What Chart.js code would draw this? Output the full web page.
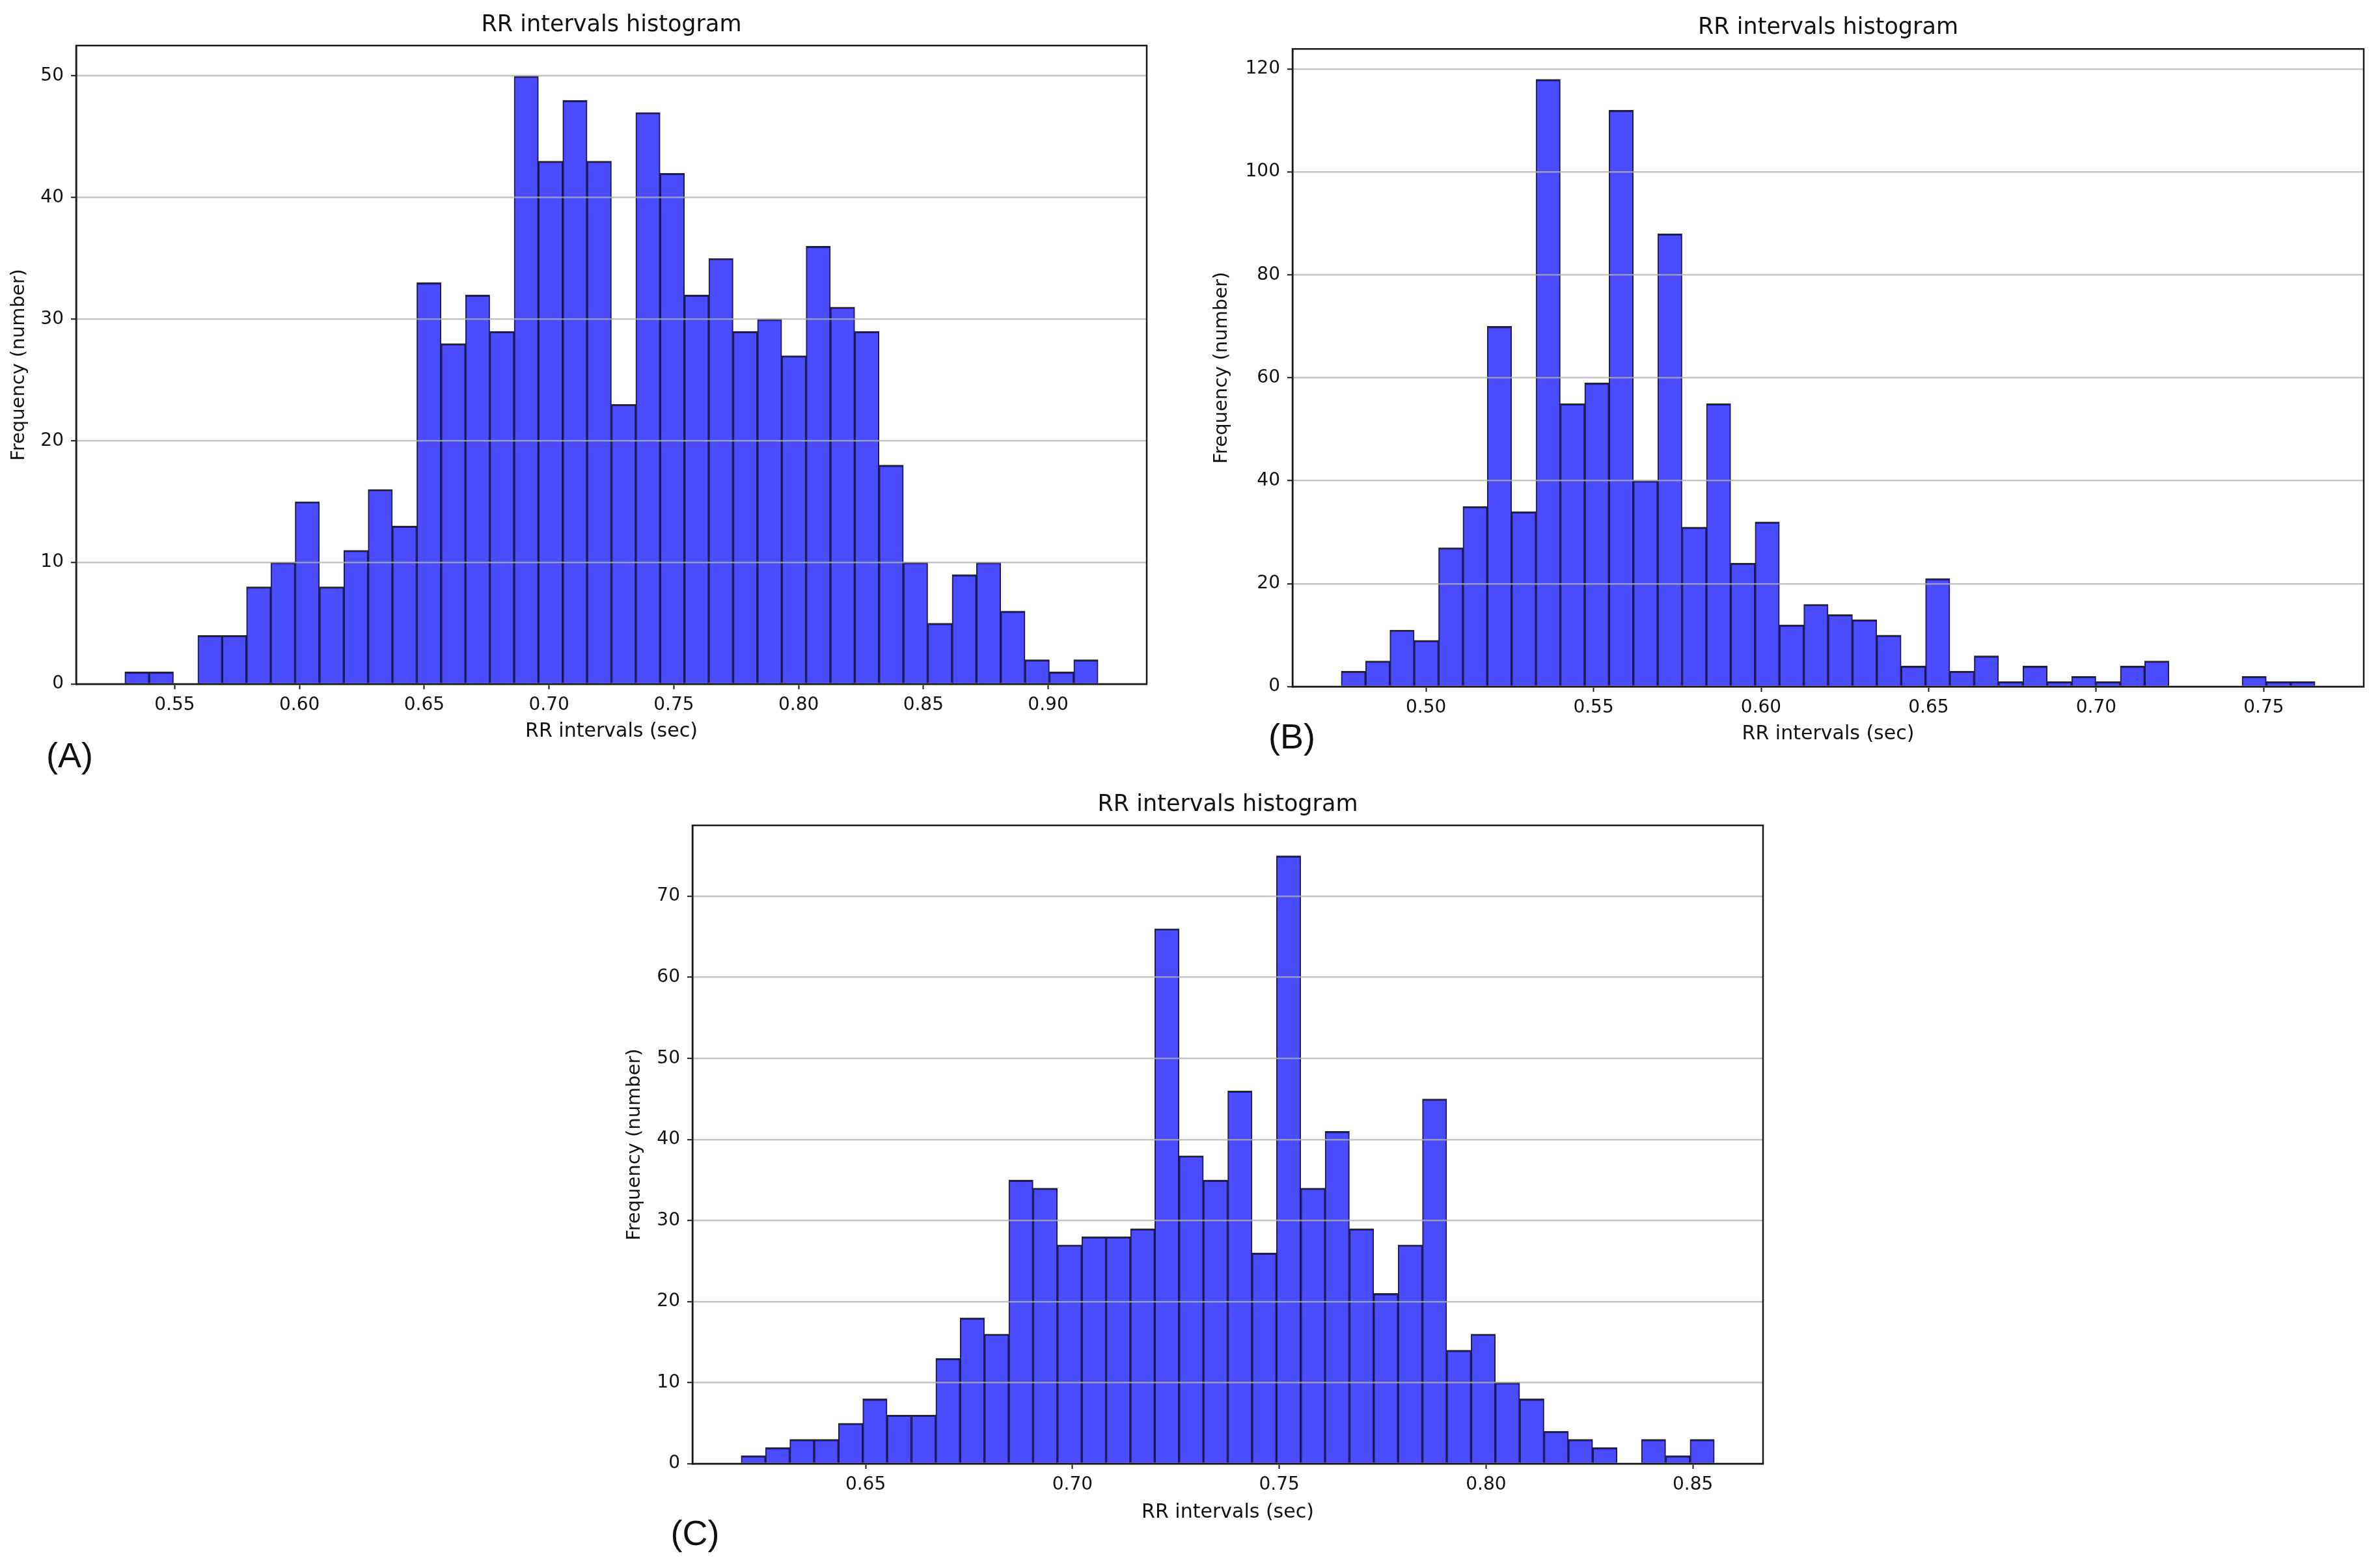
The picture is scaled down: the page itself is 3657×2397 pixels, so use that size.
<!DOCTYPE html>
<html lang="en">
<head>
  <meta charset="UTF-8">
  <title>RR intervals histograms</title>
  <script src="https://cdn.jsdelivr.net/npm/chart.js"></script>
  <style>
    html, body { margin: 0; padding: 0; background: #fff; width: 3657px; height: 2397px; overflow: hidden; }
    .panel { position: absolute; }
    .tag { position: absolute; font-family: "Liberation Sans", Arial, sans-serif; font-size: 54px; color: #111; line-height: 1; transform: translate(-50%, -50%); }
  </style>
</head>
<body>
  <div class="panel" id="boxA" style="left:0px; top:0px; width:1772px; height:1142px;"><canvas id="chartA"></canvas></div>
  <div class="panel" id="boxB" style="left:1850px; top:0px; width:1792px; height:1146px;"><canvas id="chartB"></canvas></div>
  <div class="panel" id="boxC" style="left:940px; top:1190px; width:1779px; height:1152px;"><canvas id="chartC"></canvas></div>
  <div class="tag" style="left:107px; top:1160px;">(A)</div>
  <div class="tag" style="left:1985px; top:1131px;">(B)</div>
  <div class="tag" style="left:1068px; top:2355px;">(C)</div>

  <script>
    // histogram counts, 40 bins per panel
    var countsA = [1, 1, 0, 4, 4, 8, 10, 15, 8, 11, 16, 13, 33, 28, 32, 29, 50, 43, 48, 43,
                   23, 47, 42, 32, 35, 29, 30, 27, 36, 31, 29, 18, 10, 5, 9, 10, 6, 2, 1, 2];
    var countsB = [3, 5, 11, 9, 27, 35, 70, 34, 118, 55, 59, 112, 40, 88, 31, 55, 24, 32, 12, 16,
                   14, 13, 10, 4, 21, 3, 6, 1, 4, 1, 2, 1, 4, 5, 0, 0, 0, 2, 1, 1];
    var countsC = [1, 2, 3, 3, 5, 8, 6, 6, 13, 18, 16, 35, 34, 27, 28, 28, 29, 66, 38, 35,
                   46, 26, 75, 34, 41, 29, 21, 27, 45, 14, 16, 10, 8, 4, 3, 2, 0, 3, 1, 3];

    // shortest and longest RR interval (sec) = outer bin edges
    var rrRangeA = [0.530, 0.920];
    var rrRangeB = [0.4747, 0.7653];
    var rrRangeC = [0.6199, 0.8552];

    // tick values
    var xTicksA = [0.55, 0.60, 0.65, 0.70, 0.75, 0.80, 0.85, 0.90];
    var xTicksB = [0.50, 0.55, 0.60, 0.65, 0.70, 0.75];
    var xTicksC = [0.65, 0.70, 0.75, 0.80, 0.85];
    var yTicksA = [0, 10, 20, 30, 40, 50];
    var yTicksB = [0, 20, 40, 60, 80, 100, 120];
    var yTicksC = [0, 10, 20, 30, 40, 50, 60, 70];

    var titleText = 'RR intervals histogram';
    var xTitle = 'RR intervals (sec)';
    var yTitle = 'Frequency (number)';

    Chart.defaults.font.family = '"DejaVu Sans", sans-serif';
    Chart.defaults.color = '#111';

    // matplotlib style box round the plot area
    var framePlugin = {
      id: 'frame',
      afterDraw: function(chart) {
        var a = chart.chartArea, ctx = chart.ctx;
        ctx.save();
        ctx.strokeStyle = '#1a1a1a';
        ctx.lineWidth = 2.5;
        ctx.strokeRect(a.left, a.top, a.right - a.left, a.bottom - a.top);
        ctx.restore();
      }
    };

    function makeHist(id, counts, range, xTicks, yTicks, lay) {
      var lo = range[0], hi = range[1];
      var w = (hi - lo) / counts.length;
      var pad = (hi - lo) * 0.05;
      var points = counts.map(function(c, i) {
        return { x: lo + (i + 0.5) * w, y: c };
      });
      var ctx = document.getElementById(id).getContext('2d');
      return new Chart(ctx, {
        type: 'bar',
        data: {
          datasets: [{
            data: points,
            backgroundColor: 'rgba(0, 0, 255, 0.7)',
            borderColor: 'rgba(0, 0, 0, 0.85)',
            borderWidth: { top: 2.5, left: 1.4, right: 1.4, bottom: 0 },
            barPercentage: 1.0,
            categoryPercentage: 1.0
          }]
        },
        plugins: [framePlugin],
        options: {
          responsive: true,
          maintainAspectRatio: false,
          devicePixelRatio: 1,
          animation: false,
          layout: { padding: { left: 0, right: 10, top: 0, bottom: 0 } },
          plugins: {
            legend: { display: false },
            tooltip: { enabled: false },
            title: {
              display: true,
              text: titleText,
              fullSize: false,
              color: '#111',
              font: { size: 35, weight: 'normal' },
              padding: lay.titlePad
            }
          },
          scales: {
            x: {
              type: 'linear',
              offset: false,
              min: lo - pad,
              max: hi + pad,
              afterBuildTicks: function(axis) {
                axis.ticks = xTicks.map(function(v) { return { value: v }; });
              },
              afterFit: function(scale) { scale.height = lay.xHeight; },
              ticks: {
                autoSkip: false,
                maxRotation: 0,
                padding: 8,
                font: { size: 28 },
                callback: function(v) { return v.toFixed(2); }
              },
              grid: {
                display: true,
                offset: false,
                drawOnChartArea: false,
                drawTicks: true,
                tickLength: 8,
                tickWidth: 2,
                tickColor: '#1a1a1a'
              },
              border: { display: true, color: '#1a1a1a', width: 2.5 },
              title: {
                display: true,
                text: xTitle,
                font: { size: 30 },
                padding: { top: 0, bottom: 0 }
              }
            },
            y: {
              min: 0,
              max: Math.max.apply(null, counts) * 1.05,
              afterBuildTicks: function(axis) {
                axis.ticks = yTicks.map(function(v) { return { value: v }; });
              },
              afterFit: function(scale) { scale.width = lay.yWidth; },
              ticks: {
                padding: 11,
                font: { size: 28 }
              },
              grid: {
                z: 1,
                color: 'rgba(176, 176, 176, 0.75)',
                lineWidth: 2.5,
                drawTicks: true,
                tickLength: 8,
                tickWidth: 2,
                tickColor: '#1a1a1a'
              },
              // drawn after the grid layer so its position is already known
              border: { display: true, color: '#1a1a1a', width: 2.5, z: 2 },
              title: {
                display: true,
                text: yTitle,
                font: { size: 29 },
                padding: { top: lay.yTitleOffset, bottom: 0 }
              }
            }
          }
        }
      });
    }

    makeHist('chartA', countsA, rrRangeA, xTicksA, yTicksA,
      { titlePad: { top: 18, bottom: 10 }, xHeight: 91, yWidth: 117, yTitleOffset: 12 });
    makeHist('chartB', countsB, rrRangeB, xTicksB, yTicksB,
      { titlePad: { top: 21.6, bottom: 11.6 }, xHeight: 91, yWidth: 136, yTitleOffset: 10 });
    makeHist('chartC', countsC, rrRangeC, xTicksC, yTicksC,
      { titlePad: { top: 25.6, bottom: 10.6 }, xHeight: 93, yWidth: 124, yTitleOffset: 18 });
  </script>
</body>
</html>
